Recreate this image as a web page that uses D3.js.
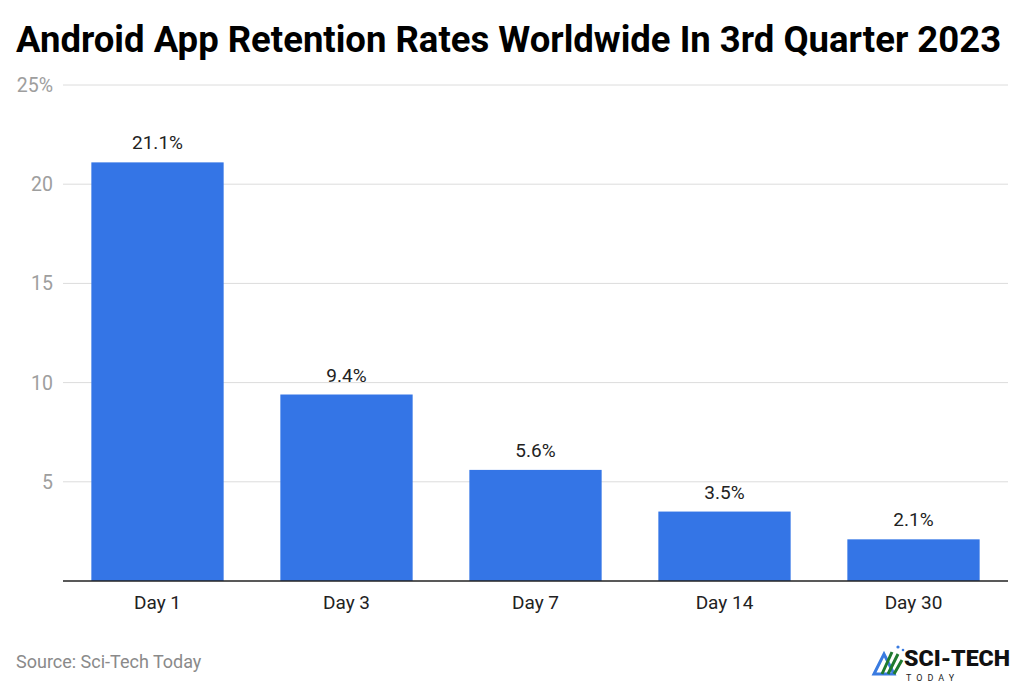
<!DOCTYPE html>
<html>
<head>
<meta charset="utf-8">
<script src="https://cdn.jsdelivr.net/npm/d3@7"></script>
<style>
html,body{margin:0;padding:0;background:#fff;}
svg{display:block;font-family:Roboto, "Noto Sans", sans-serif;}
</style>
</head>
<body>
<svg id="chart" width="1023" height="689"></svg>
<script>
const categories = ["Day 1", "Day 3", "Day 7", "Day 14", "Day 30"];
const values = [21.1, 9.4, 5.6, 3.5, 2.1];
const yTicks = [0, 5, 10, 15, 20, 25];
const yTickLabels = ["", "5", "10", "15", "20", "25%"];

const svg = d3.select("#chart");
const W = 1023, H = 689;
const m = {left: 63, right: 1008, top: 85, bottom: 581};

svg.append("rect").attr("width", W).attr("height", H).attr("fill", "#fff");

svg.append("text")
  .attr("x", 16).attr("y", 52)
  .attr("font-size", 36.5).attr("font-weight", 700)
  .attr("fill", "#000")
  .text("Android App Retention Rates Worldwide In 3rd Quarter 2023");

const x = d3.scaleBand().domain(categories).range([m.left, m.right])
  .paddingInner(0.3).paddingOuter(0.15);
const y = d3.scaleLinear().domain([0, 25]).range([m.bottom, m.top]);

// gridlines
svg.append("g").selectAll("line").data(yTicks.filter(d => d > 0)).join("line")
  .attr("x1", m.left).attr("x2", m.right)
  .attr("y1", d => y(d)).attr("y2", d => y(d))
  .attr("stroke", "#dcdcdc").attr("stroke-width", 1);

// y tick labels
svg.append("g").selectAll("text").data(yTicks).join("text")
  .attr("x", 53).attr("y", d => y(d) + 7)
  .attr("text-anchor", "end")
  .attr("font-size", 19.5).attr("fill", "#9e9e9e")
  .text((d, i) => yTickLabels[i]);

// bars
svg.append("g").selectAll("rect").data(values).join("rect")
  .attr("x", (d, i) => x(categories[i]))
  .attr("width", x.bandwidth())
  .attr("y", d => y(d))
  .attr("height", d => y(0) - y(d))
  .attr("fill", "#3475e6");

// value labels
svg.append("g").selectAll("text").data(values).join("text")
  .attr("x", (d, i) => x(categories[i]) + x.bandwidth() / 2)
  .attr("y", d => y(d) - 13)
  .attr("text-anchor", "middle")
  .attr("font-size", 19).attr("fill", "#222")
  .text(d => d.toFixed(1) + "%");

// baseline
svg.append("line")
  .attr("x1", m.left).attr("x2", m.right)
  .attr("y1", y(0)).attr("y2", y(0))
  .attr("stroke", "#222").attr("stroke-width", 1.5);

// x labels
svg.append("g").selectAll("text").data(categories).join("text")
  .attr("x", d => x(d) + x.bandwidth() / 2)
  .attr("y", 609)
  .attr("text-anchor", "middle")
  .attr("font-size", 19).attr("fill", "#222")
  .text(d => d);

// source
svg.append("text")
  .attr("x", 16).attr("y", 668)
  .attr("font-size", 18).attr("fill", "#8a8a8a")
  .text("Source: Sci-Tech Today");

// logo
const logo = svg.append("g").attr("transform", "translate(872,642)");
logo.append("path").attr("d", "M2,32 L12,12 L22,32 Z").attr("fill", "none").attr("stroke", "#3a7be0").attr("stroke-width", 3);
logo.append("path").attr("d", "M10,32 L20,10 M16,32 L26,12 M22,32 L30,18").attr("stroke", "#1f7a2e").attr("stroke-width", 3);
logo.append("circle").attr("cx", 26).attr("cy", 5).attr("r", 1.6).attr("fill", "#3a7be0");
logo.append("circle").attr("cx", 31).attr("cy", 8).attr("r", 1.3).attr("fill", "#3a7be0");
logo.append("text").attr("x", 32).attr("y", 24).attr("font-size", 22).attr("font-weight", 900)
  .attr("textLength", 106).attr("lengthAdjust", "spacingAndGlyphs")
  .attr("fill", "#111").text("SCI-TECH");
logo.append("text").attr("x", 34).attr("y", 39).attr("font-size", 9).attr("letter-spacing", 5)
  .attr("fill", "#222").text("TODAY");
</script>
</body>
</html>
